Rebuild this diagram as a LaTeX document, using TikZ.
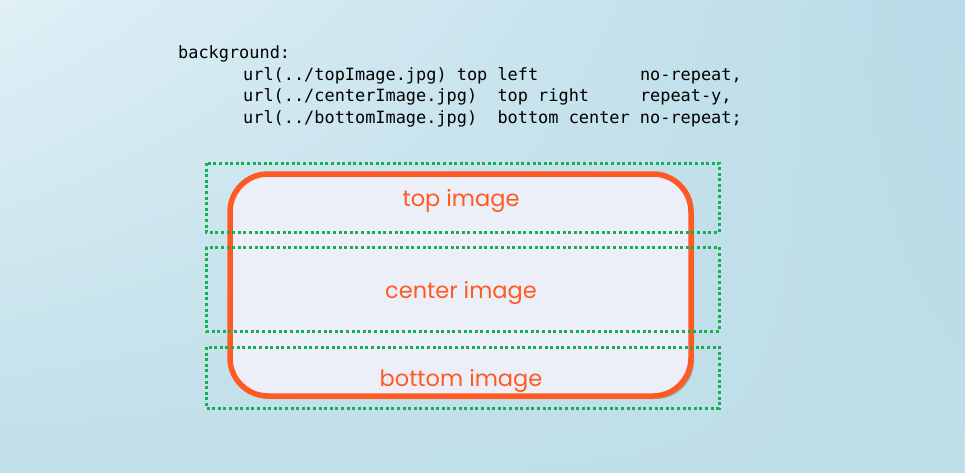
\documentclass[tikz,border=0pt]{standalone}
\usepackage{fontspec}
\setmonofont{DejaVu Sans Mono}
\newfontfamily\zonefont{Poppins}
\usetikzlibrary{shadows,shadings}
\definecolor{bgUL}{RGB}{224,240,246}
\definecolor{bgUR}{RGB}{184,219,231}
\definecolor{bgLL}{RGB}{192,223,233}
\definecolor{bgLR}{RGB}{190,222,232}
\definecolor{frameorange}{RGB}{255,90,36}
\definecolor{framefill}{RGB}{236,239,248}
\definecolor{zonegreen}{RGB}{22,176,80}
\begin{document}
\begin{tikzpicture}[x=1pt,y=-1pt,
    code/.style={anchor=base west, inner sep=0pt, font=\ttfamily\fontsize{16.9}{20}\selectfont},
    zone/.style={draw=zonegreen, line width=3pt, dash pattern=on 3pt off 2.6pt},
    frame/.style={draw=frameorange, line width=5.5pt, fill=framefill, rounded corners=38pt,
        drop shadow={shadow xshift=3pt, shadow yshift=-3pt, opacity=.35, fill=black!70}},
    zonetext/.style={text=frameorange, font=\zonefont\fontsize{22.5}{26}\selectfont}]
\useasboundingbox (0,0) rectangle (965,472);
% Background
\shade[upper left=bgUL, upper right=bgUR, lower left=bgLL, lower right=bgLR]
    (0,0) rectangle (965,472);
% Code
\node[code] (line0) at (178,58) {background:};
\node[code] (line1) at (243,80) {url(../topImage.jpg)~top~left~~~~~~~~~~no-repeat,};
\node[code] (line2) at (243,101.5) {url(../centerImage.jpg)~~top~right~~~~~repeat-y,};
\node[code] (line3) at (243,123) {url(../bottomImage.jpg)~~bottom~center~no-repeat;};
% Frame
\draw[frame] (230,174) rectangle (691,396);
% Zones
\draw[zone] (206,163) rectangle (719,232);
\draw[zone] (206,247) rectangle (719,331);
\draw[zone] (206,347) rectangle (719,408);
% Labels
\node[zonetext] (toptext) at (461,201) {top image};
\node[zonetext] (centertext) at (461,293) {center image};
\node[zonetext] (bottomtext) at (461,381) {bottom image};
\end{tikzpicture}
\end{document}
